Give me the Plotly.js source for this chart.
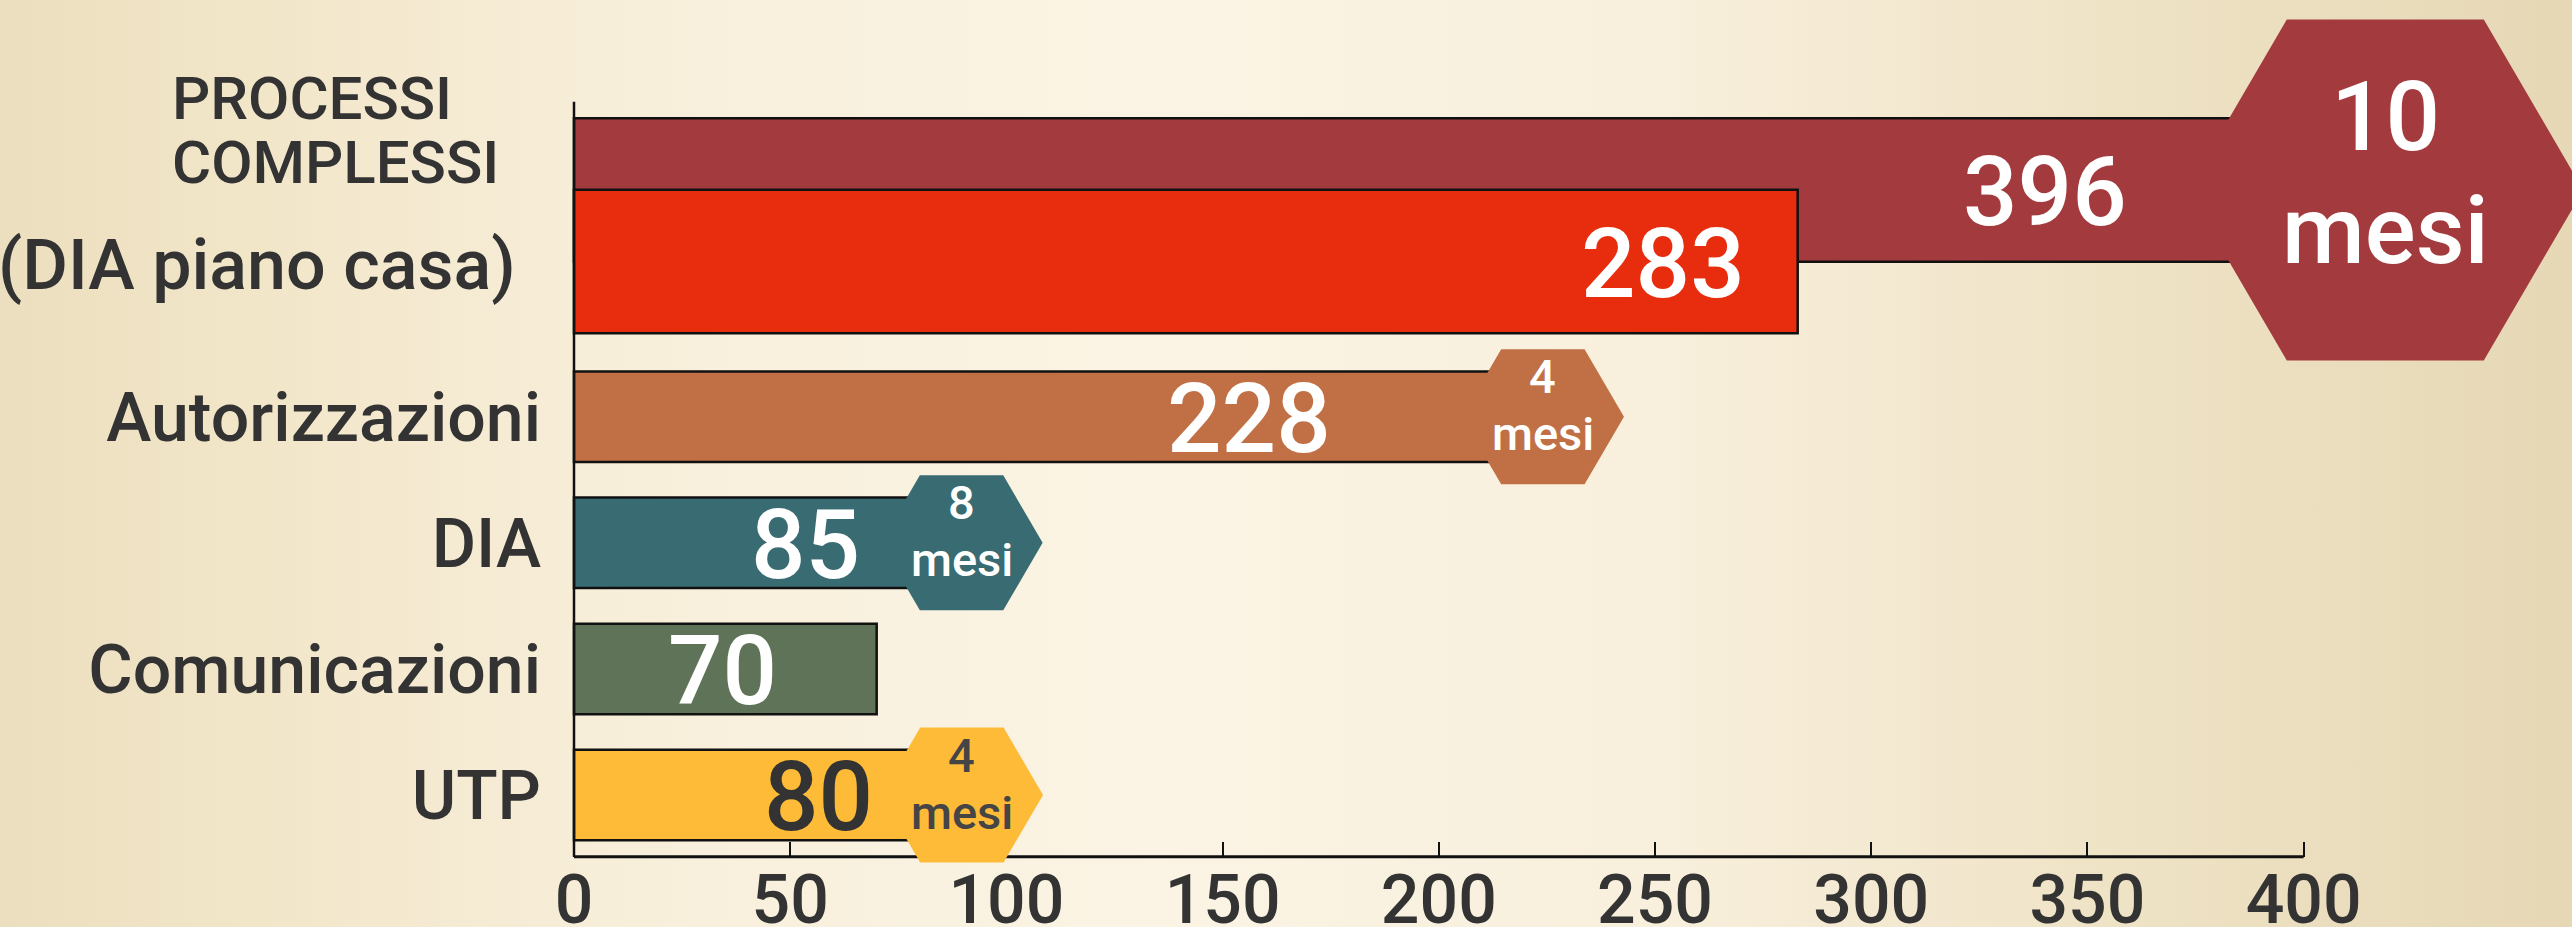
<!DOCTYPE html>
<html>
<head>
<meta charset="utf-8">
<script src="https://cdn.plot.ly/plotly-3.0.1.min.js"></script>
<style>
  html, body { margin: 0; padding: 0; width: 2572px; height: 927px; overflow: hidden; }
  body {
    background:
      linear-gradient(90deg, #ecdfbf 0%, #f2e6c9 10%, #f8efdb 25%, #fbf4e4 45%, #f8efdc 65%, #efe3c6 82%, #e6d8b5 100%);
  }
  #chart { width: 2572px; height: 927px; }
</style>
</head>
<body>
<div id="chart"></div>
<script>
// ---------------- DATA ----------------
const categories = ["PROCESSI COMPLESSI", "(DIA piano casa)", "Autorizzazioni", "DIA", "Comunicazioni", "UTP"];
const values = [396, 283, 228, 85, 70, 80];
const months = [10, null, 4, 8, null, 4];
const monthUnit = "mesi";
const xTickValues = [0, 50, 100, 150, 200, 250, 300, 350, 400];

// ---------------- LAYOUT / STYLE ----------------
const ROW_POS = [4.798, 4.231, 3, 2, 1, 0];          // vertical row positions
const BAR_W = [1.138, 1.138, 0.718, 0.718, 0.718, 0.718];
const COLORS = ['#A33A3D', '#E82D0E', '#C07044', '#386B72', '#5F7358', '#FDBB38'];
const LABEL_COLORS = ['#ffffff', '#ffffff', '#ffffff', '#ffffff', '#ffffff', '#333333'];
const BADGE_TEXT_COLORS = ['#ffffff', null, '#ffffff', '#ffffff', null, '#454545'];
const LABEL_SHIFT = [-157, -51, -227, -80, -98, -45];   // px from bar end
const BADGE_SHIFT = [99, 0, -17, 20, 0, 42];            // px from bar end
const BADGE_KIND = ['big', null, 'small', 'small', null, 'small'];
const BADGE_GEOM = {
  big:   {halfH: 170.5, halfFlat: 98.5, tip: 198, numSize: 96, unitSize: 95, numShift: 73, unitShift: -40},
  small: {halfH: 67.5,  halfFlat: 41.7, tip: 81.1, numSize: 47, unitSize: 47, numShift: 40, unitShift: -17}
};
const FONT = 'Roboto, "Open Sans", sans-serif';
const DARK = '#333333';
const PX_PER_UNIT = 4.324;
const LEFT_MARGIN = 560;
const PLOT_W = 2572 - LEFT_MARGIN;
const X_MIN = -(574 - LEFT_MARGIN) / PX_PER_UNIT;
const X_MAX = X_MIN + PLOT_W / PX_PER_UNIT;
const AXIS_Y_PAPER = (927 - 856.7) / 927;
const YLINE_TOP_PAPER = (927 - 101.7) / 927;

const trace = {
  type: 'bar',
  orientation: 'h',
  x: values,
  y: ROW_POS,
  width: BAR_W,
  marker: { color: COLORS, line: { color: '#111111', width: 2.5 } },
  hoverinfo: 'skip',
  showlegend: false
};

function hexPath(g, d) {
  const p = [
    [d - g.tip, 0], [d - g.halfFlat, g.halfH], [d + g.halfFlat, g.halfH],
    [d + g.tip, 0], [d + g.halfFlat, -g.halfH], [d - g.halfFlat, -g.halfH]
  ];
  return 'M' + p.map(q => q[0] + ',' + q[1]).join(' L') + ' Z';
}

const shapes = [
  // x axis line (0 .. 400)
  { type: 'line', xref: 'x', yref: 'paper', x0: 0, x1: xTickValues[xTickValues.length - 1],
    y0: AXIS_Y_PAPER, y1: AXIS_Y_PAPER, line: { color: '#111111', width: 3 }, layer: 'above' },
  // y axis line
  { type: 'line', xref: 'x', yref: 'paper', x0: 0, x1: 0,
    y0: AXIS_Y_PAPER, y1: YLINE_TOP_PAPER, line: { color: '#111111', width: 2.5 }, layer: 'above' }
];

const annotations = [];

values.forEach((v, i) => {
  // value label
  annotations.push({
    x: v, y: ROW_POS[i], xref: 'x', yref: 'y', xanchor: 'right', yanchor: 'middle',
    xshift: LABEL_SHIFT[i], yshift: -2, showarrow: false,
    text: String(v),
    font: { family: FONT, size: 96, color: LABEL_COLORS[i], weight: 500 }
  });
  // month badge
  if (months[i] !== null) {
    const g = BADGE_GEOM[BADGE_KIND[i]];
    shapes.push({
      type: 'path', xref: 'x', yref: 'y', xsizemode: 'pixel', ysizemode: 'pixel',
      xanchor: v, yanchor: ROW_POS[i], path: hexPath(g, BADGE_SHIFT[i]),
      fillcolor: COLORS[i], line: { width: 0 }, layer: 'above'
    });
    annotations.push({
      x: v, y: ROW_POS[i], xref: 'x', yref: 'y', xanchor: 'center', yanchor: 'middle',
      xshift: BADGE_SHIFT[i], yshift: g.numShift, showarrow: false,
      text: String(months[i]),
      font: { family: FONT, size: g.numSize, color: BADGE_TEXT_COLORS[i], weight: 500 }
    });
    annotations.push({
      x: v, y: ROW_POS[i], xref: 'x', yref: 'y', xanchor: 'center', yanchor: 'middle',
      xshift: BADGE_SHIFT[i], yshift: g.unitShift, showarrow: false,
      text: monthUnit,
      font: { family: FONT, size: g.unitSize, color: BADGE_TEXT_COLORS[i], weight: 500 }
    });
  }
});

// top row labels
const topWords = categories[0].split(' ');
annotations.push({
  x: 0, y: ROW_POS[0], xref: 'paper', yref: 'y', xanchor: 'left', yanchor: 'middle',
  xshift: 170 - LEFT_MARGIN, yshift: 92, showarrow: false, text: topWords[0],
  font: { family: FONT, size: 60, color: DARK, weight: 500 }
});
annotations.push({
  x: 0, y: ROW_POS[0], xref: 'paper', yref: 'y', xanchor: 'left', yanchor: 'middle',
  xshift: 170 - LEFT_MARGIN, yshift: 28, showarrow: false, text: topWords[1],
  font: { family: FONT, size: 60, color: DARK, weight: 500 }
});
annotations.push({
  x: 0, y: ROW_POS[1], xref: 'paper', yref: 'y', xanchor: 'right', yanchor: 'middle',
  xshift: 518 - LEFT_MARGIN, yshift: -3, showarrow: false, text: categories[1],
  font: { family: FONT, size: 70, color: DARK, weight: 500 }
});

const layout = {
  width: 2572, height: 927,
  margin: { l: LEFT_MARGIN, r: 0, t: 0, b: 0, pad: 0 },
  paper_bgcolor: 'rgba(0,0,0,0)',
  plot_bgcolor: 'rgba(0,0,0,0)',
  showlegend: false,
  barmode: 'overlay',
  xaxis: {
    range: [X_MIN, X_MAX], anchor: 'free', position: AXIS_Y_PAPER,
    tickmode: 'array', tickvals: xTickValues, ticktext: xTickValues.map(String),
    ticks: 'inside', ticklen: 15, tickwidth: 2, tickcolor: '#111111',
    ticklabelstandoff: -3,
    showline: false, showgrid: false, zeroline: false, fixedrange: true,
    tickfont: { family: FONT, size: 68, color: DARK, weight: 500 }
  },
  yaxis: {
    range: [-1.0468, 6.305],
    tickmode: 'array', tickvals: ROW_POS.slice(2), ticktext: categories.slice(2),
    ticks: '', showline: false, showgrid: false, zeroline: false, fixedrange: true,
    ticklabelstandoff: 18,
    tickfont: { family: FONT, size: 68, color: DARK, weight: 500 }
  },
  shapes: shapes,
  annotations: annotations
};

Plotly.newPlot('chart', [trace], layout, { displayModeBar: false, staticPlot: true });
</script>
</body>
</html>
